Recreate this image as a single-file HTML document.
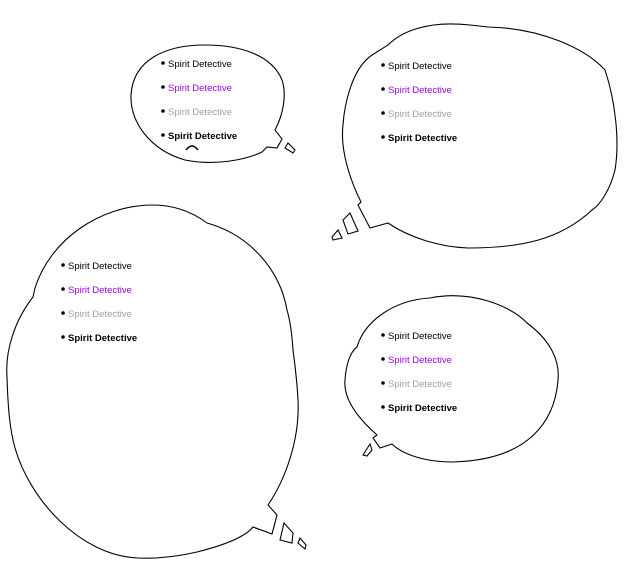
<!DOCTYPE html>
<html><head><meta charset="utf-8"><style>
html,body{margin:0;padding:0;background:#fff;width:640px;height:570px;overflow:hidden}
svg text{font-family:"Liberation Sans",sans-serif;font-size:9.5px}
</style></head><body>
<svg width="640" height="570" viewBox="0 0 640 570" xmlns="http://www.w3.org/2000/svg">
<g fill="none" stroke="#000" stroke-width="1.1">
<path d="M275,130 C283,115 287,95 282,80 C272,55 240,45 205,45 C165,45 133,60 131,95 C130,122 150,150 185,160 C215,166 245,160 262,152 L267,147 L277,148 L282,139 Z"/>
<path d="M285,148 L288,143 L295,150 L293,153 Z"/>
<path d="M186,150 Q192,142 198,150" stroke-width="1.6"/>
<path d="M361,202 C350,180 340,150 343,125 C344,110 350,70 372,55 L388,45 C400,33 425,20 470,25 L488,27 C540,28 585,48 605,70 C615,100 620,140 615,170 C610,190 600,205 592,210 C560,240 520,248 468,248 C440,247 410,238 388,223 L370,228 L358,205 Z"/>
<path d="M343,220 L350,213 L358,231 L348,234 Z"/>
<path d="M332,237 L338,230 L342,238 L333,240 Z"/>
<path d="M268,505 C285,480 300,440 298,400 C297,380 295,365 293,350 C292,335 290,320 287,310 C280,270 250,235 207,223 C190,210 170,205 153,205 C100,205 50,240 35,288 L33,297 C15,320 5,350 7,377 C8,410 10,430 15,448 C30,500 80,555 137,558 C160,559 180,556 197,552 C225,545 245,537 253,527 L272,534 L277,515 Z"/>
<path d="M280,540 L284,523 L293,533 L292,543 Z"/>
<path d="M298,543 L300,538 L306,545 L305,549 Z"/>
<path d="M377,435 C360,420 343,400 345,380 C346,365 350,352 357,347 C365,320 395,300 430,298 C470,290 510,305 527,323 C550,340 560,360 558,380 C555,420 530,460 453,462 C420,462 400,452 392,444 L380,448 L373,438 Z"/>
<path d="M363,455 L370,444 L372,450 L367,456 Z"/>
</g>
<g fill="#000">
<circle cx="163" cy="63" r="1.8"/><circle cx="163" cy="87" r="1.8"/><circle cx="163" cy="111" r="1.8"/><circle cx="163" cy="135" r="1.8"/>
<circle cx="383" cy="65" r="1.8"/><circle cx="383" cy="89" r="1.8"/><circle cx="383" cy="113" r="1.8"/><circle cx="383" cy="137" r="1.8"/>
<circle cx="63" cy="265" r="1.8"/><circle cx="63" cy="289" r="1.8"/><circle cx="63" cy="313" r="1.8"/><circle cx="63" cy="337" r="1.8"/>
<circle cx="383" cy="335" r="1.8"/><circle cx="383" cy="359" r="1.8"/><circle cx="383" cy="383" r="1.8"/><circle cx="383" cy="407" r="1.8"/>
</g>
<g>
<text x="168" y="67" fill="#000">Spirit Detective</text>
<text x="168" y="91" fill="#a000f0">Spirit Detective</text>
<text x="168" y="115" fill="#a0a0a0">Spirit Detective</text>
<text x="168" y="139" fill="#000" font-weight="bold">Spirit Detective</text>
<text x="388" y="69" fill="#000">Spirit Detective</text>
<text x="388" y="93" fill="#a000f0">Spirit Detective</text>
<text x="388" y="117" fill="#a0a0a0">Spirit Detective</text>
<text x="388" y="141" fill="#000" font-weight="bold">Spirit Detective</text>
<text x="68" y="269" fill="#000">Spirit Detective</text>
<text x="68" y="293" fill="#a000f0">Spirit Detective</text>
<text x="68" y="317" fill="#a0a0a0">Spirit Detective</text>
<text x="68" y="341" fill="#000" font-weight="bold">Spirit Detective</text>
<text x="388" y="339" fill="#000">Spirit Detective</text>
<text x="388" y="363" fill="#a000f0">Spirit Detective</text>
<text x="388" y="387" fill="#a0a0a0">Spirit Detective</text>
<text x="388" y="411" fill="#000" font-weight="bold">Spirit Detective</text>
</g>
</svg>
</body></html>
